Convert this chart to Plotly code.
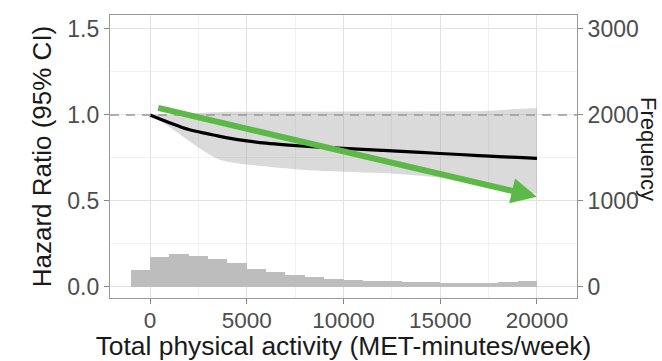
import plotly.graph_objects as go

# ---- data ----
pa_x = [0, 1000, 2000, 3000, 3500, 4000, 5000, 6000, 7000, 8000, 9000, 10000,
        11000, 12000, 13000, 14000, 15000, 16000, 17000, 18000, 19000, 20000]
hr = [1.0, 0.955, 0.915, 0.89, 0.878, 0.867, 0.849, 0.836, 0.826, 0.818, 0.812, 0.806,
      0.800, 0.794, 0.788, 0.782, 0.776, 0.770, 0.764, 0.758, 0.753, 0.748]
ci_low = [1.0, 0.93, 0.85, 0.775, 0.745, 0.728, 0.712, 0.70, 0.69, 0.68, 0.674, 0.67,
          0.666, 0.662, 0.656, 0.647, 0.636, 0.624, 0.608, 0.588, 0.565, 0.54]
ci_high = [1.0, 1.0, 1.01, 1.015, 1.017, 1.018, 1.018, 1.018, 1.018, 1.018, 1.018, 1.018,
           1.018, 1.018, 1.018, 1.019, 1.019, 1.02, 1.022, 1.028, 1.034, 1.04]

hist_centers = [-500, 500, 1500, 2500, 3500, 4500, 5500, 6500, 7500, 8500, 9500,
                10500, 11500, 12500, 13500, 14500, 15500, 16500, 17500, 18500, 19500]
hist_counts = [198, 345, 384, 366, 324, 275, 205, 170, 145, 118, 90,
               78, 72, 66, 60, 56, 52, 50, 52, 58, 70]

x_ticks = [0, 5000, 10000, 15000, 20000]
y_ticks = [0.0, 0.5, 1.0, 1.5]
y_tick_labels = ["0.0", "0.5", "1.0", "1.5"]
y2_ticks = [0, 1000, 2000, 3000]

arrow_tail = (346, 1.043)
arrow_tip = (20000, 0.525)

FONT = "Liberation Sans, Arial, Helvetica, sans-serif"
TICKC = "#4D4D4D"

fig = go.Figure()

# histogram (frequency, secondary axis)
fig.add_trace(go.Bar(x=hist_centers, y=hist_counts, width=1000, yaxis="y2",
                     marker=dict(color="#BDBDBD", line=dict(width=0)),
                     showlegend=False, hoverinfo="skip"))

# confidence band
fig.add_trace(go.Scatter(x=pa_x, y=ci_low, mode="lines", line=dict(width=0, shape="spline"),
                         showlegend=False, hoverinfo="skip"))
fig.add_trace(go.Scatter(x=pa_x, y=ci_high, mode="lines", line=dict(width=0),
                         fill="tonexty", fillcolor="rgba(140,140,140,0.32)",
                         showlegend=False, hoverinfo="skip"))
# HR curve
fig.add_trace(go.Scatter(x=pa_x, y=hr, mode="lines",
                         line=dict(color="black", width=3.2, shape="spline"),
                         showlegend=False))

# reference line at HR = 1
fig.add_shape(type="line", xref="x domain", yref="y", x0=0, x1=1, y0=1, y1=1,
              line=dict(color="#9A9A9A", width=1.6, dash="9px,7px"), layer="above")

# green arrow overlay
fig.add_annotation(x=arrow_tip[0], y=arrow_tip[1], ax=arrow_tail[0], ay=arrow_tail[1],
                   xref="x", yref="y", axref="x", ayref="y", text="",
                   showarrow=True, arrowhead=2, arrowsize=0.85, arrowwidth=6,
                   arrowcolor="#5CB947", standoff=0)

# right axis title
fig.add_annotation(text="Frequency", xref="paper", yref="paper", x=1.154, y=0.5265,
                   xanchor="center", yanchor="middle", textangle=90, showarrow=False,
                   font=dict(family=FONT, size=22, color="#1A1A1A"))

fig.update_layout(
    width=662, height=361,
    margin=dict(l=110, r=85, t=15, b=63),
    paper_bgcolor="white", plot_bgcolor="white",
    font=dict(family=FONT, color=TICKC),
    bargap=0,
    xaxis=dict(range=[-2070, 22070], tickvals=x_ticks, ticktext=[str(v) for v in x_ticks],
               automargin=False, ticklabelstandoff=-3,
               showgrid=True, gridcolor="#E2E2E2", gridwidth=1.2,
               minor=dict(dtick=2500, tick0=0, showgrid=True, gridcolor="#F1F1F1", gridwidth=0.8),
               zeroline=False, showline=True, mirror=True, linecolor="#999999", linewidth=1.2,
               ticks="outside", ticklen=5, tickwidth=1.2, tickcolor="#888888",
               tickfont=dict(family=FONT, size=22.5, color=TICKC),
               title=dict(text="Total physical activity (MET-minutes/week)", standoff=2,
                          font=dict(family=FONT, size=26.4, color="#1A1A1A"))),
    yaxis=dict(range=[-0.064, 1.581], tickvals=y_ticks, ticktext=y_tick_labels,
               automargin=False,
               showgrid=True, gridcolor="#E2E2E2", gridwidth=1.2,
               minor=dict(dtick=0.25, tick0=0, showgrid=True, gridcolor="#F1F1F1", gridwidth=0.8),
               zeroline=False, showline=True, mirror=True, linecolor="#999999", linewidth=1.2,
               ticks="outside", ticklen=5, tickwidth=1.2, tickcolor="#888888",
               tickfont=dict(family=FONT, size=23, color=TICKC),
               title=dict(text="Hazard Ratio (95% CI)", standoff=8,
                          font=dict(family=FONT, size=26, color="#1A1A1A"))),
    yaxis2=dict(range=[-128, 3162], overlaying="y", side="right", tickvals=y2_ticks,
                automargin=False,
                showgrid=False, zeroline=False, showline=False,
                ticks="outside", ticklen=5, tickwidth=1.2, tickcolor="#888888",
                tickfont=dict(family=FONT, size=23, color=TICKC)),
)

fig.write_html("out.html")
